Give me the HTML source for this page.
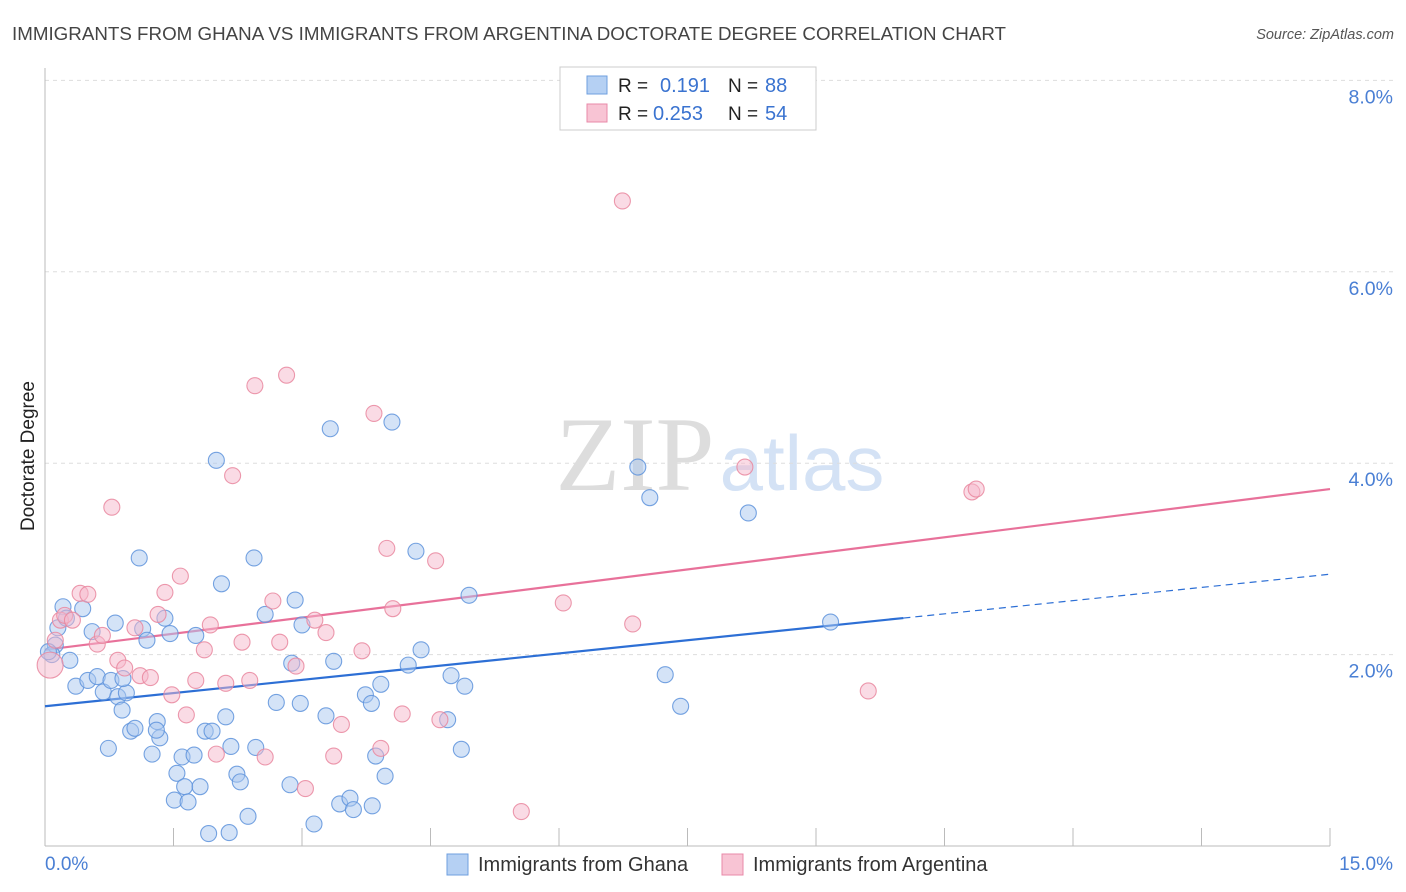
<!DOCTYPE html>
<html><head><meta charset="utf-8">
<style>
body{margin:0;background:#fff;font-family:"Liberation Sans",sans-serif;}
svg{display:block}
</style></head>
<body>
<svg id="chart" width="1406" height="892" xmlns="http://www.w3.org/2000/svg">
<text x="12" y="40" font-size="18" fill="#444" textLength="994" lengthAdjust="spacingAndGlyphs">IMMIGRANTS FROM GHANA VS IMMIGRANTS FROM ARGENTINA DOCTORATE DEGREE CORRELATION CHART</text>
<text x="1394" y="39" font-size="14.5" fill="#555" text-anchor="end" font-style="italic">Source: ZipAtlas.com</text>
<text transform="translate(34,456) rotate(-90)" font-size="19" fill="#222" text-anchor="middle">Doctorate Degree</text>
<g>
<text x="635" y="490" font-size="106" fill="#ddd" font-family="Liberation Serif" text-anchor="middle">ZIP</text>
<text x="802" y="490" font-size="78" fill="#d4e2f5" text-anchor="middle">atlas</text>
</g>
<g id="grid"></g>
<g id="axes"></g>
<g id="lines"></g>
<g id="pts"></g>
<g>
<rect x="560" y="67" width="256" height="63" fill="#fff" stroke="#ccc"/>
<rect x="587" y="76" width="20" height="18" fill="#b5d0f3" stroke="#6f9fdf"/>
<rect x="587" y="104" width="20" height="18" fill="#f8c4d4" stroke="#e88aa8"/>
<text x="618" y="92" font-size="19" fill="#222">R =</text>
<text x="660" y="92" font-size="20" fill="#3a73d0">0.191</text>
<text x="728" y="92" font-size="19" fill="#222">N =</text>
<text x="765" y="92" font-size="20" fill="#3a73d0">88</text>
<text x="618" y="120" font-size="19" fill="#222">R =</text>
<text x="653" y="120" font-size="20" fill="#3a73d0">0.253</text>
<text x="728" y="120" font-size="19" fill="#222">N =</text>
<text x="765" y="120" font-size="20" fill="#3a73d0">54</text>
</g>
<g>
<rect x="447" y="854" width="21" height="21" fill="#b5d0f3" stroke="#6f9fdf"/>
<text x="478" y="871" font-size="20" fill="#333">Immigrants from Ghana</text>
<rect x="722" y="854" width="21" height="21" fill="#f8c4d4" stroke="#e88aa8"/>
<text x="753" y="871" font-size="20" fill="#333">Immigrants from Argentina</text>
</g>
</svg>
<script>
const ghanaX=[.12,.08,.21,.29,.36,.44,.50,.55,.61,.68,.74,.77,.82,.85,.90,.95,1.00,1.05,1.10,1.14,1.19,1.25,1.31,1.34,1.40,1.46,1.51,1.54,1.60,1.63,1.67,1.74,1.76,1.81,1.87,1.91,1.95,2.00,2.06,2.11,2.15,2.17,2.24,2.28,2.37,2.44,2.46,2.57,2.70,2.86,2.88,2.92,2.98,3.00,3.14,3.28,3.33,3.37,3.44,3.56,3.60,3.74,3.81,3.82,3.86,3.92,3.97,4.05,4.24,4.33,4.39,4.70,4.74,4.86,4.90,4.95,6.92,7.06,7.24,7.42,8.21,9.17,.04,.15,.25,.91,1.30];
const ghanaY=[2.10,2.00,2.50,1.94,1.67,2.48,1.73,2.24,1.77,1.61,1.02,1.73,2.33,1.56,1.42,1.60,1.20,1.23,3.01,2.27,2.15,0.96,1.30,1.13,2.38,2.22,0.48,0.76,0.93,0.62,0.46,0.95,2.20,0.62,1.20,0.13,1.20,4.03,2.74,1.35,0.14,1.04,0.75,0.67,0.31,3.01,1.03,2.42,1.50,0.64,1.91,2.57,1.49,2.31,0.23,1.36,4.36,1.93,0.44,0.50,0.38,1.58,1.49,0.42,0.94,1.69,0.73,4.43,1.89,3.08,2.05,1.32,1.78,1.01,1.67,2.62,3.96,3.64,1.79,1.46,3.48,2.34,2.03,2.28,2.38,1.75,1.21];
const argX=[.06,.12,.18,.23,.32,.41,.50,.61,.67,.78,.85,.93,1.05,1.11,1.23,1.32,1.40,1.48,1.58,1.65,1.76,1.86,1.93,2.00,2.11,2.19,2.30,2.39,2.45,2.57,2.66,2.74,2.82,2.93,3.04,3.15,3.28,3.37,3.46,3.70,3.84,3.92,3.99,4.06,4.17,4.56,4.61,5.56,6.05,6.74,6.86,8.17,9.61,10.82,10.87];
const argY=[1.89,2.15,2.36,2.41,2.36,2.64,2.63,2.11,2.20,3.54,1.94,1.86,2.28,1.78,1.76,2.42,2.65,1.58,2.82,1.37,1.73,2.05,2.31,0.96,1.70,3.87,2.13,1.73,4.81,0.93,2.56,2.13,4.92,1.88,0.60,2.36,2.23,0.94,1.27,2.04,4.52,1.02,3.11,2.48,1.38,2.98,1.32,0.36,2.54,6.74,2.32,3.96,1.62,3.70,3.73];
const yTicks=[2,4,6,8];
const yTickLabels=["2.0%","4.0%","6.0%","8.0%"];
const xTickVals=[0,1.5,3,4.5,6,7.5,9,10.5,12,13.5,15];
const ghanaTrend=[1.46,2.84];
const argTrend=[2.05,3.73];
const ghanaSolidEnd=10.02;
const X0=45,X1=1330,Y0=846,PXY=95.7;
const sx=v=>X0+v*(X1-X0)/15, sy=v=>Y0-v*PXY;
const NS="http://www.w3.org/2000/svg";
function mk(t,a,p){const e=document.createElementNS(NS,t);for(const k in a)e.setAttribute(k,a[k]);p.appendChild(e);return e;}
const grid=document.getElementById('grid'),axes=document.getElementById('axes'),lines=document.getElementById('lines'),pts=document.getElementById('pts');
yTicks.forEach((v,i)=>{
 const l=mk('line',{x1:X0,x2:1394,y1:sy(v),y2:sy(v),stroke:'#ddd','stroke-dasharray':'4,4'},grid);
 
 
 const t=mk('text',{x:1393,y:sy(v)+23,'font-size':19.5,fill:'#4a7fd4','text-anchor':'end'},axes);
 t.textContent=yTickLabels[i];
 
 
});
const ax=mk('line',{x1:X0,x2:X0,y1:68,y2:Y0,stroke:'#bbb'},axes);


const bx=mk('line',{x1:X0,x2:X1,y1:Y0,y2:Y0,stroke:'#bbb'},axes);


xTickVals.forEach(v=>{
 const t=mk('line',{x1:sx(v),x2:sx(v),y1:828,y2:Y0,stroke:'#bbb'},axes);
 
 
});
const xl0=mk('text',{x:45,y:870,'font-size':19,fill:'#4a7fd4'},axes);xl0.textContent='0.0%';


const xl1=mk('text',{x:1393,y:870,'font-size':19,fill:'#4a7fd4','text-anchor':'end'},axes);xl1.textContent='15.0%';


function pt(x,y,fill,stroke,name,r){
 const c=mk('circle',{cx:sx(x),cy:sy(y),r:r,fill:fill,'fill-opacity':0.5,stroke:stroke,'stroke-width':1.1,'stroke-opacity':0.85},pts);
 
 
}
ghanaX.forEach((x,i)=>pt(x,ghanaY[i],'#a9c7f0','#5e93dc','ghana-point',8));
argX.forEach((x,i)=>pt(x,argY[i],'#f6b8cb','#e9879f','argentina-point',i==0?13:8));
const gy=x=>ghanaTrend[0]+(ghanaTrend[1]-ghanaTrend[0])*x/15;
const ay=x=>argTrend[0]+(argTrend[1]-argTrend[0])*x/15;
const l1=mk('line',{x1:sx(0),y1:sy(gy(0)),x2:sx(ghanaSolidEnd),y2:sy(gy(ghanaSolidEnd)),stroke:'#2d6fd5','stroke-width':2.2},lines);


const l2=mk('line',{x1:sx(ghanaSolidEnd),y1:sy(gy(ghanaSolidEnd)),x2:sx(15),y2:sy(gy(15)),stroke:'#2d6fd5','stroke-width':1.2,'stroke-dasharray':'7,5'},lines);


const l3=mk('line',{x1:sx(0),y1:sy(ay(0)),x2:sx(15),y2:sy(ay(15)),stroke:'#e8719a','stroke-width':2.2},lines);


</script>
</body></html>
